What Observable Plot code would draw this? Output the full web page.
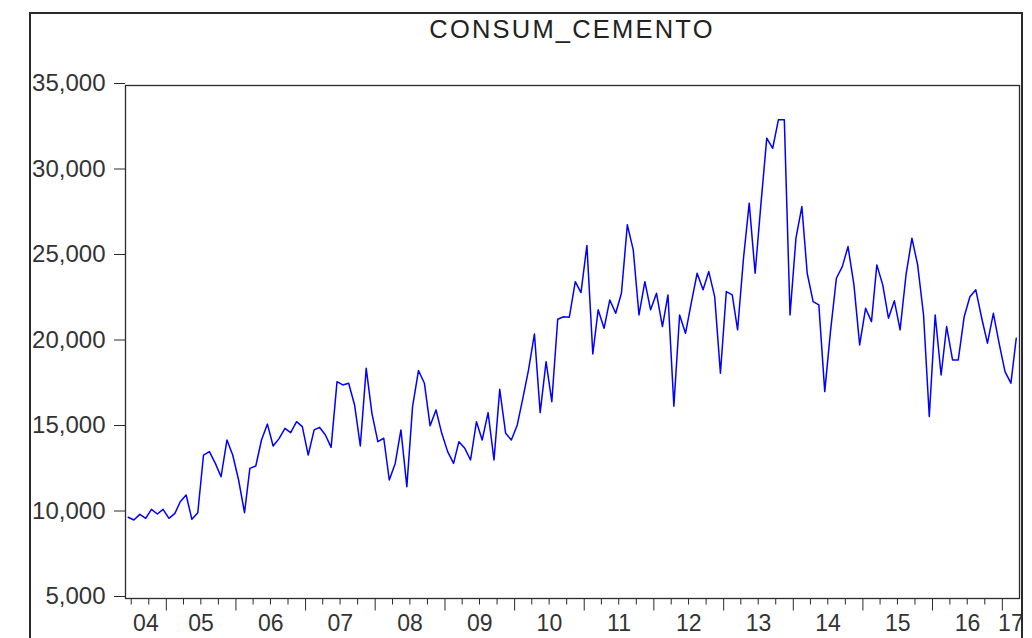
<!DOCTYPE html>
<html>
<head>
<meta charset="utf-8">
<script src="https://cdn.jsdelivr.net/npm/d3@7"></script>
<script src="https://cdn.jsdelivr.net/npm/@observablehq/plot@0.6"></script>
<style>
  html, body { margin: 0; padding: 0; background: #fff; }
  #wrap { position: relative; width: 1032px; height: 638px; overflow: hidden;
          font-family: "Liberation Sans", Arial, sans-serif; }
  #chart { position: absolute; left: 0; top: 0; }
  #outer { position: absolute; left: 29px; top: 12px; width: 994px; height: 700px;
           border: 2px solid #2a2a2a; box-sizing: border-box; pointer-events: none; }
  #title { position: absolute; left: 125px; width: 894px; top: 17px; text-align: center;
           font-size: 25.5px; line-height: 25.5px; letter-spacing: 2.2px; color: #222;
           font-family: "Liberation Sans", Arial, sans-serif; }
</style>
</head>
<body>
<div id="wrap">
  <div id="chart"></div>
  <div id="outer"></div>
  <div id="title">CONSUM_CEMENTO</div>
</div>
<script>
// Series: CONSUM_CEMENTO, monthly, starting 2004M06
const seriesName = "CONSUM_CEMENTO";
const startYear = 2004;
const startMonth = 5; // June (0-based)
const consumCemento = [
  9750, 9590, 9920, 9690, 10210, 9940, 10210, 9690, 9980, 10660,
  11050, 9630, 10020, 13390, 13590, 12900, 12120, 14270, 13390, 11930,
  10020, 12610, 12750, 14270, 15200, 13920, 14350, 14950, 14700, 15340,
  15050, 13390, 14860, 15010, 14560, 13840, 17680, 17490, 17590, 16320,
  13920, 18460, 15830, 14170, 14370, 11930, 12900, 14860, 11540, 16220,
  18330, 17590, 15100, 16030, 14660, 13590, 12900, 14170, 13780, 13100,
  15340, 14270, 15870, 13100, 17230, 14660, 14270, 15150, 16810, 18370,
  20470, 15870, 18850, 16510, 21330, 21480, 21450, 23530, 22890, 25650,
  19300, 21880, 20800, 22460, 21680, 22850, 26850, 25390, 21580, 23530,
  21880, 22850, 20900, 22750, 16250, 21580, 20510, 22270, 24020, 23050,
  24120, 22650, 18170, 22950, 22750, 20710, 24900, 28120, 24020, 28020,
  31920, 31330, 32990, 32990, 21580, 26070, 27920, 24020, 22360, 22170,
  17100, 20610, 23730, 24410, 25580, 23340, 19830, 21970, 21190, 24510,
  23340, 21390, 22410, 20710, 23920, 26070, 24510, 21580, 15640, 21580,
  18070, 20900, 18950, 18950, 21480, 22650, 23050, 21390, 19930, 21680,
  19930, 18270, 17590, 20220
];
const yTicks = [5000, 10000, 15000, 20000, 25000, 30000, 35000];
const yearLabels = ["04","05","06","07","08","09","10","11","12","13","14","15","16","17"];

// Build table from the arrays
const dates = consumCemento.map((v, i) => new Date(Date.UTC(startYear, startMonth + i, 15)));
const data = consumCemento.map((v, i) => ({date: dates[i], value: v}));
const domainStart = new Date(Date.UTC(startYear, startMonth, 1));
const domainEnd = new Date(Date.UTC(startYear, startMonth + consumCemento.length, 1));

const majorTicks = d3.utcYear.range(domainStart, domainEnd);
const minorTicks = d3.utcMonth.every(3).range(domainStart, domainEnd)
  .filter(d => d.getUTCMonth() !== 0);
// label at the middle of the visible part of each year
const labelDates = yearLabels.map((s, k) => {
  const y = startYear + k;
  const a = Math.max(+new Date(Date.UTC(y, 0, 1)), +domainStart);
  const b = Math.min(+new Date(Date.UTC(y + 1, 0, 1)), +domainEnd);
  return new Date((a + b) / 2);
});
const labelMap = new Map(labelDates.map((d, k) => [+d, yearLabels[k]]));

const ink = "#2a2a2a";
const chart = Plot.plot({
  width: 1032,
  height: 638,
  marginLeft: 125,
  marginRight: 13,
  marginTop: 85,
  marginBottom: 40,
  style: {fontFamily: "'Liberation Sans', Arial, sans-serif", fontSize: "24px", color: "#333", background: "#fff", overflow: "visible"},
  x: {type: "utc", domain: [domainStart, domainEnd]},
  y: {domain: [5000, 35000]},
  marks: [
    Plot.axisY({ticks: yTicks, tickFormat: d3.format(","), tickSize: 11, tickPadding: 9,
                stroke: ink, fill: "#333", fontSize: 24, dy: -2, label: null}),
    Plot.axisX({ticks: majorTicks, tickSize: 12.5, stroke: ink, fill: "none", label: null}),
    Plot.axisX({ticks: minorTicks, tickSize: 6.5, stroke: ink, fill: "none", label: null}),
    Plot.axisX({ticks: labelDates, tickSize: 0, tickPadding: 16, tickFormat: d => labelMap.get(+d),
                fill: "#333", fontSize: 23, label: null}),
    Plot.frame({stroke: ink, strokeWidth: 1.3}),
    Plot.lineY(data, {x: "date", y: "value", stroke: "#0000ff", strokeWidth: 1.5, curve: "linear"})
  ]
});
document.getElementById("chart").appendChild(chart);
</script>
</body>
</html>
